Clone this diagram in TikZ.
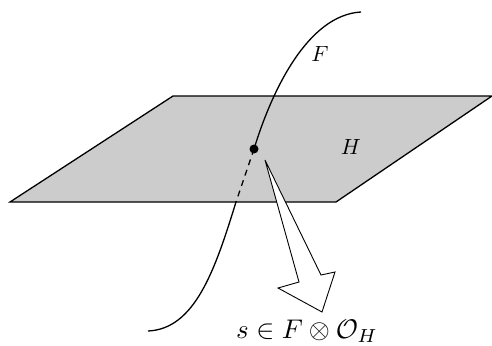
\documentclass[tikz,border=0pt]{standalone}
\usepackage{amsmath,amssymb}
\usepackage{xcolor}
\begin{document}
\begin{tikzpicture}[x=1pt,y=-1pt,
    edge/.style={line width=1.3pt, line join=miter},
    plane/.style={edge, fill=black!20},
    big/.style={line width=0.9pt, fill=white, line join=miter},
    lbl/.style={inner sep=0pt, scale=2.2},
    lblbig/.style={inner sep=0pt, scale=2.7}]
  \useasboundingbox (0,0) rectangle (492,345);
  % plane
  \draw[plane] (10,202) -- (173,96) -- (492,96) -- (336,202) -- cycle;
  % curve, hidden part dashed
  \coordinate (top) at (361,12);
  \coordinate (bot) at (148,331);
  \node[circle, fill=black, inner sep=0pt, minimum size=9pt] (s) at (254,149) {};
  \coordinate (in) at (236,202);
  \draw[edge] (s.center) .. controls (272,90) and (308,15) .. (top);
  \draw[edge, dash pattern=on 6pt off 5pt] (s.center) -- (in);
  \draw[edge] (in) .. controls (215,270) and (195,329) .. (bot);
  % big arrow
  \coordinate (tip) at (265,160);
  \draw[big] (tip) -- (321,275) -- (335,272) -- (322,312) -- (278,288) -- (299,282) -- cycle;
  % labels
  \node[lbl] (F) at (320,54) {$F$};
  \node[lbl] (H) at (351,147) {$H$};
  \node[lblbig] (sec) at (307,331.5) {$s\in F\otimes\mathcal{O}_H$};
\end{tikzpicture}
\end{document}
